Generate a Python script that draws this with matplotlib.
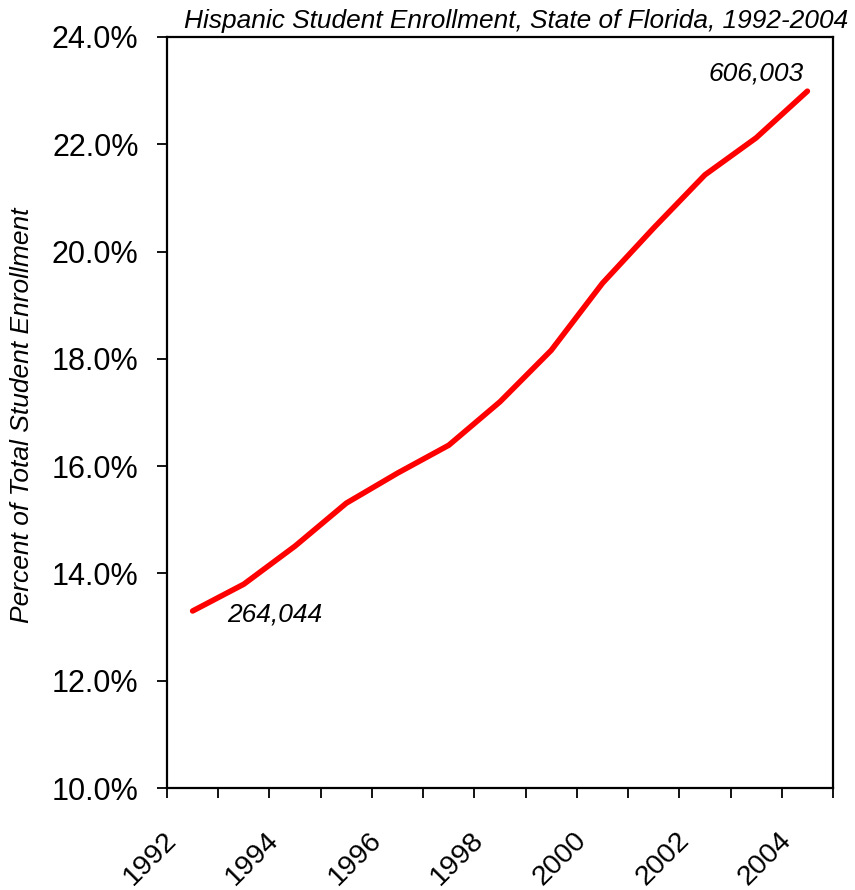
import matplotlib
matplotlib.use("Agg")
import matplotlib.pyplot as plt
import matplotlib.transforms as mtransforms
import numpy as np

plt.rcParams['font.family'] = ['Liberation Sans', 'DejaVu Sans']

# data
years = [1992, 1993, 1994, 1995, 1996, 1997, 1998, 1999, 2000, 2001, 2002, 2003, 2004]
pct_hispanic = [13.30, 13.80, 14.51, 15.31, 15.87, 16.39, 17.20, 18.16, 19.41, 20.44, 21.43, 22.12, 22.99]
start_count = "264,044"
end_count = "606,003"
title = "Hispanic Student Enrollment, State of Florida, 1992-2004"
ylabel = "Percent of Total Student Enrollment"

W, H = 855, 890
fig = plt.figure(figsize=(W / 100, H / 100), dpi=100)
ax = fig.add_axes([167 / W, 1 - 788 / H, (833 - 167) / W, (788 - 37) / H])

x = np.arange(len(years))
ax.plot(x, pct_hispanic, color='#ff0000', lw=4, solid_capstyle='round', solid_joinstyle='round')

# axes / spines
for s in ax.spines.values():
    s.set_linewidth(1.6)
    s.set_color('black')

ax.set_xlim(-0.5, len(years) - 0.5)
ax.set_ylim(10, 24)

# y axis
yt = np.arange(10, 25, 2)
ax.set_yticks(yt)
ax.set_yticklabels(['%.1f%%' % v for v in yt])
ax.tick_params(axis='y', direction='out', length=7.5, width=1.3, pad=13, labelsize=22)

# x axis: tick marks between categories, labels every other year
ax.set_xticks(np.arange(-0.5, len(years), 1.0), minor=True)
ax.tick_params(axis='x', which='minor', direction='out', length=7.5, width=1.3)
ax.set_xticks(x[::2])
ax.set_xticklabels([str(y) for y in years[::2]], rotation=45, ha='right',
                   va='center', rotation_mode='anchor', fontsize=20.5)
ax.tick_params(axis='x', which='major', length=0, pad=35)
offset = mtransforms.ScaledTranslation(-20 / 100, 0, fig.dpi_scale_trans)
for lab in ax.get_xticklabels():
    lab.set_transform(lab.get_transform() + offset)

# labels
ax.set_ylabel(ylabel, fontsize=19, style='italic')
ax.yaxis.label.set_va('center')
ax.yaxis.set_label_coords((22 - 167) / (833 - 167), 0.497)
fig.text(848 / W, 1 - 28 / H, title, ha='right', va='baseline', fontsize=18.9, style='italic')

# endpoint annotations
ax.annotate(start_count, xy=(x[0], pct_hispanic[0]), xytext=(25, -7.5),
            textcoords='offset points', ha='left', va='baseline',
            fontsize=19, style='italic')
ax.annotate(end_count, xy=(x[-1], pct_hispanic[-1]), xytext=(-71, 8),
            textcoords='offset points', ha='left', va='baseline',
            fontsize=19, style='italic')

fig.savefig('out.png', dpi=100)
